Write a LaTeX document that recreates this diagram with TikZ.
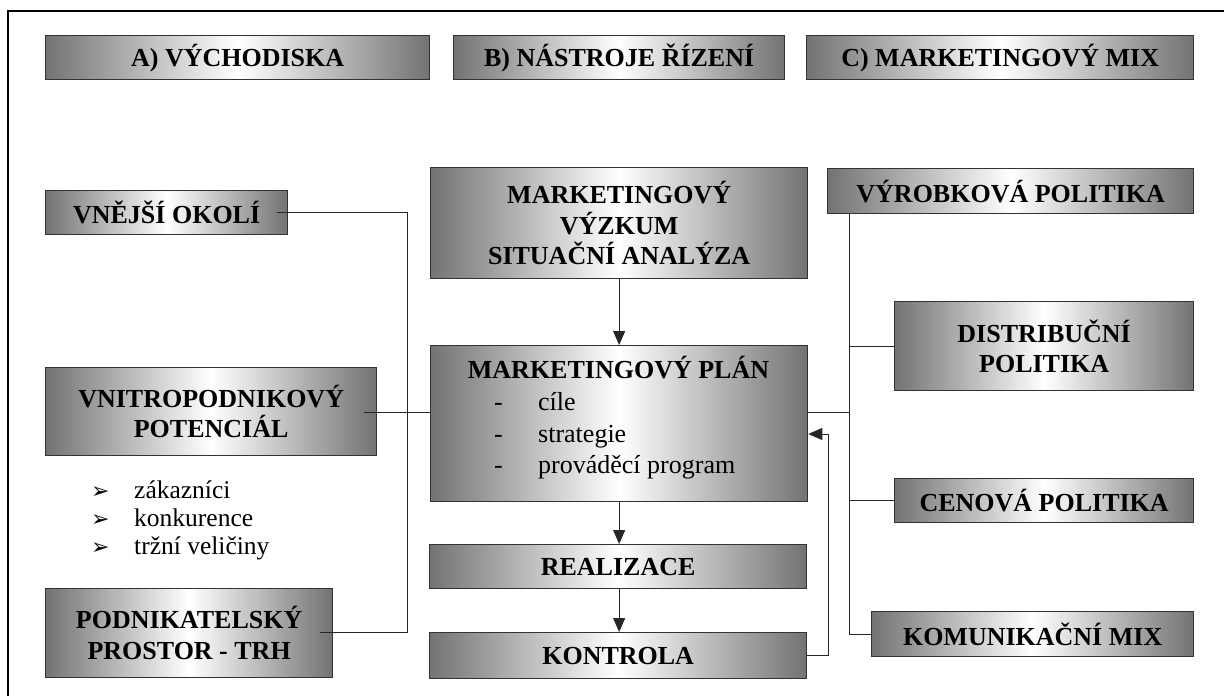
\documentclass[tikz,border=0pt]{standalone}
\usepackage{fontspec}
\setmainfont{Liberation Serif}
\newfontfamily\symfont{DejaVu Sans}
\usetikzlibrary{arrows.meta}
\begin{document}
\begin{tikzpicture}[x=1pt,y=-1pt,
  box/.style={draw=black!80, line width=1.3pt, left color=black!55, right color=black!55, middle color=white,
    anchor=north west, inner sep=0pt, align=center, font=\fontsize{26}{30.5}\selectfont\bfseries},
  conn/.style={draw=black!85, line width=1pt},
  arr/.style={conn, -{Triangle[length=14pt,width=12pt]}},
  txt/.style={font=\fontsize{26}{30}\selectfont, anchor=base west, inner sep=0pt},
  bul/.style={font=\fontsize{25.5}{28}\selectfont, anchor=base west, inner sep=0pt},
  bsym/.style={font=\symfont\fontsize{22}{22}\selectfont, anchor=base west, inner sep=0pt},
  ttl/.style={font=\fontsize{26}{30.5}\selectfont\bfseries, anchor=base, inner sep=0pt},
]
\useasboundingbox (0,0) rectangle (1224,696);
\fill[white] (0,0) rectangle (1224,696);
\draw[line width=1.3pt] (8,696) -- (8,11) -- (1224,11);

% headers
\node[box, minimum width=384pt, minimum height=44pt] (hA) at (45,35) {A) VÝCHODISKA};
\node[box, minimum width=331pt, minimum height=44pt] (hB) at (453,35) {B) NÁSTROJE ŘÍZENÍ};
\node[box, minimum width=387pt, minimum height=44pt] (hC) at (806,35) {C) MARKETINGOVÝ MIX};

% left column
\node[box, minimum width=242pt, minimum height=44pt] (vnej) at (45,190) {VNĚJŠÍ OKOLÍ};
\node[box, minimum width=331pt, minimum height=88pt] (vnitro) at (45,367) {VNITROPODNIKOVÝ\\POTENCIÁL};
\node[box, minimum width=287pt, minimum height=89pt] (podnik) at (45,588) {PODNIKATELSKÝ\\PROSTOR - TRH};

\node[bsym] (b1) at (91,498) {➢};
\node[bsym] (b2) at (91,526) {➢};
\node[bsym] (b3) at (91,554) {➢};
\node[bul] (t1) at (134,498) {zákazníci};
\node[bul] (t2) at (134,526) {konkurence};
\node[bul] (t3) at (134,554) {tržní veličiny};

% middle column
\node[box, minimum width=377pt, minimum height=111pt] (vyzkum) at (430,167) {MARKETINGOVÝ\\VÝZKUM\\SITUAČNÍ ANALÝZA};
\node[box, minimum width=377pt, minimum height=156pt] (plan) at (430,345) {};
\node[ttl] (plantitle) at (618.5,378) {MARKETINGOVÝ PLÁN};
\node[txt] (d1) at (494,410) {-};
\node[txt] (d2) at (494,442) {-};
\node[txt] (d3) at (494,473) {-};
\node[txt] (i1) at (538,410) {cíle};
\node[txt] (i2) at (538,442) {strategie};
\node[txt] (i3) at (538,473) {prováděcí program};
\node[box, minimum width=377pt, minimum height=44pt] (real) at (429,544) {REALIZACE};
\node[box, minimum width=377pt, minimum height=46pt] (kontr) at (429,632) {KONTROLA};

% right column
\node[box, minimum width=366pt, minimum height=45pt] (vyrob) at (827,168) {VÝROBKOVÁ POLITIKA};
\node[box, minimum width=299pt, minimum height=89pt] (distr) at (894,301) {DISTRIBUČNÍ\\POLITIKA};
\node[box, minimum width=299pt, minimum height=44pt] (cen) at (894,478) {CENOVÁ POLITIKA};
\node[box, minimum width=322pt, minimum height=45pt] (komun) at (871,611) {KOMUNIKAČNÍ MIX};

% left connectors
\coordinate (vnejR) at (277,212);
\coordinate (busL) at (407,212);
\coordinate (podR) at (320,632);
\draw[conn] (vnejR) -- (busL) |- (podR);
\coordinate (vnitroR) at (364,412);
\draw[conn] (vnitroR) -- (vnitroR -| plan.west);

% middle arrows
\draw[arr] (vyzkum.south) -- (plan.north);
\draw[arr] (plan.south) -- (plan.south |- real.north);
\draw[arr] (plan.south |- real.south) -- (plan.south |- kontr.north);
\coordinate (fb) at (828,434);
\draw[arr] (kontr.east) -| (fb) -- (fb -| plan.east);

% right connectors
\coordinate (planR) at (807,412);
\coordinate (busR) at (849,412);
\draw[conn] (planR) -- (busR);
\draw[conn] (busR |- vyrob.south) -- (busR |- komun.west) -- (komun.west);
\draw[conn] (busR |- distr.west) -- (distr.west);
\draw[conn] (busR |- cen.west) -- (cen.west);
\end{tikzpicture}
\end{document}
